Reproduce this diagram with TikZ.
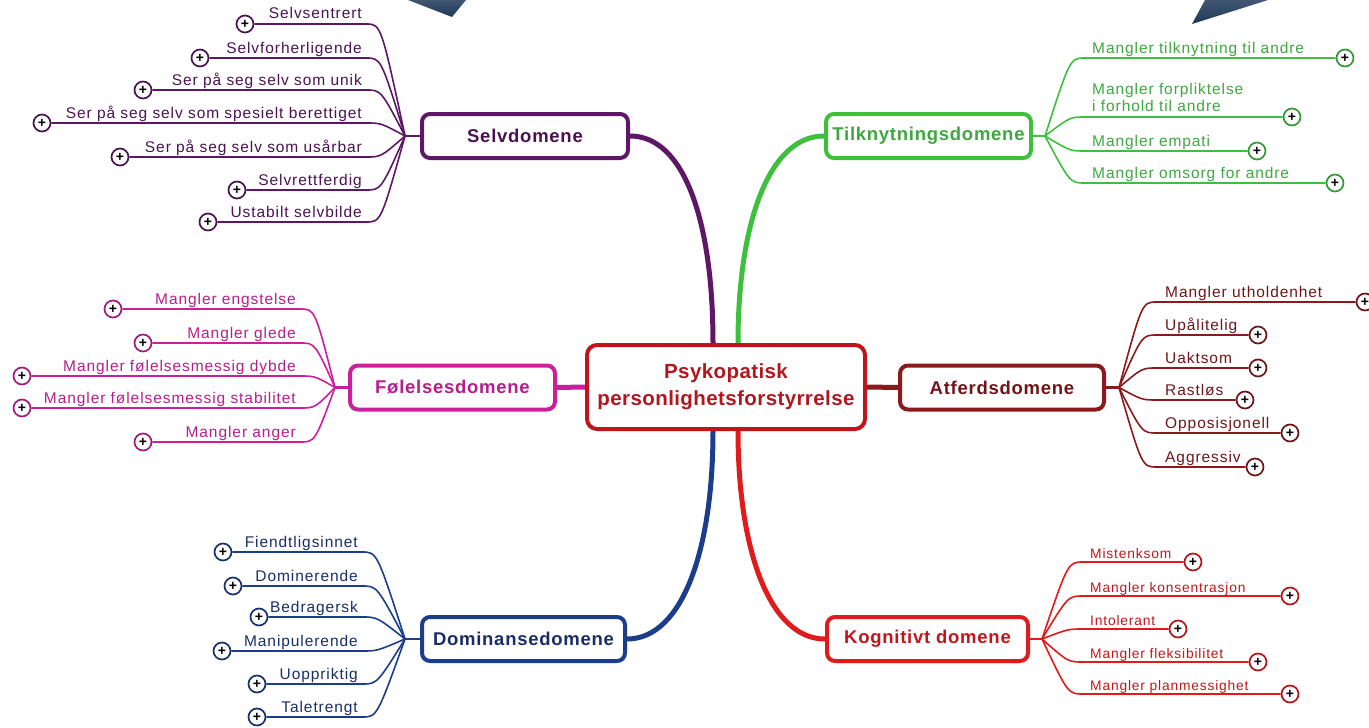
\documentclass[tikz,border=0pt]{standalone}
\usepackage{fontspec}
\setmainfont{Liberation Sans}
\newfontfamily\leaffont[LetterSpace=6]{Liberation Sans}
\newfontfamily\domfont[LetterSpace=4]{Liberation Sans}
\newfontfamily\hubfont[LetterSpace=2]{Liberation Sans}
\usetikzlibrary{calc}
\pgfdeclarelayer{background}
\pgfsetlayers{background,main}

\definecolor{selvc}{HTML}{5E1766}
\definecolor{selvt}{HTML}{4A1250}
\definecolor{tilkc}{HTML}{3EC03E}
\definecolor{tilkt}{HTML}{3DA83D}
\definecolor{folc}{HTML}{CC1F9C}
\definecolor{folt}{HTML}{B51F8C}
\definecolor{atfc}{HTML}{8A1A1E}
\definecolor{atft}{HTML}{701519}
\definecolor{domc}{HTML}{1B3D8C}
\definecolor{domt}{HTML}{182E66}
\definecolor{kogc}{HTML}{E01B1B}
\definecolor{kogt}{HTML}{C0161C}
\definecolor{hubc}{HTML}{C0151D}
\definecolor{hubt}{HTML}{B01820}
\definecolor{navy}{HTML}{1F3858}

\tikzset{
  domain/.style={draw=#1, line width=4pt, rounded corners=8pt, fill=white,
    minimum width=204pt, minimum height=44pt, inner sep=0pt,
    font=\domfont\bfseries\fontsize{18.5}{20}\selectfont},
  limb/.style={draw=#1, line width=5pt},
  stub/.style={draw=#1, line width=2.6pt},
  twig/.style={draw=#1, line width=1.6pt},
  expander/.style={circle, draw=#1!80!black, fill=white, line width=1.7pt,
    minimum size=17pt, inner sep=0pt,
    font=\bfseries\fontsize{14}{14}\selectfont, text=black},
  leaftext/.style={inner sep=0pt, text=#1,
    font=\leaffont\fontsize{15.5}{18}\selectfont},
}

\begin{document}
\begin{tikzpicture}[x=1pt,y=-1pt]
\useasboundingbox (0,0) rectangle (1369,728);

% arrow tips entering from above
\shade[top color=navy!85!white, bottom color=navy] (408,0) -- (466,0) -- (452,17) -- cycle;
\shade[top color=navy!85!white, bottom color=navy] (1205,0) -- (1268,0) -- (1192,24) -- cycle;

% central topic
\node[draw=hubc, line width=4pt, rounded corners=10pt, fill=white,
      minimum width=278pt, minimum height=84pt, align=center, text=hubt,
      font=\hubfont\bfseries\fontsize{20.5}{27}\selectfont]
      (C) at (726,387) {Psykopatisk\\personlighetsforstyrrelse};

% domains
\node[domain=selvc, text=selvt, minimum width=206pt] (S) at (525,136) {Selvdomene};
\node[domain=tilkc, text=tilkt, minimum width=205pt] (T) at (928.5,136) {Tilknytningsdomene};
\node[domain=folc, text=folt, minimum width=205pt] (F) at (452.5,387.5) {Følelsesdomene};
\node[domain=atfc, text=atft, minimum width=204pt] (A) at (1002,387.5) {Atferdsdomene};
\node[domain=domc, text=domt, minimum width=203pt] (D) at (523.5,639) {Dominansedomene};
\node[domain=kogc, text=kogt, minimum width=201pt] (K) at (927.5,639) {Kognitivt domene};

% connectors from the central topic
\coordinate (Cn1) at ($(C.north)+(-13,0)$);
\coordinate (Cn2) at ($(C.north)+(12,0)$);
\coordinate (Cs1) at ($(C.south)+(-13,0)$);
\coordinate (Cs2) at ($(C.south)+(12,0)$);
\begin{pgfonlayer}{background}
  \draw[limb=selvc] (S.east) .. controls +(55,0) and +(0,-120) .. (Cn1);
  \draw[limb=tilkc] (T.west) .. controls +(-55,0) and +(0,-120) .. (Cn2);
  \draw[limb=domc] (D.east) .. controls +(55,0) and +(0,120) .. (Cs1);
  \draw[limb=kogc] (K.west) .. controls +(-55,0) and +(0,120) .. (Cs2);
  \draw[limb=folc] (F.east) -- (C.west);
  \draw[limb=atfc] (C.east) -- (A.west);
\end{pgfonlayer}

% hubs where the subtopics fan out
\coordinate (Sh) at ($(S.west)+(-15,0)$);
\coordinate (Fh) at ($(F.west)+(-13,0)$);
\coordinate (Dh) at ($(D.west)+(-15,0)$);
\coordinate (Th) at ($(T.east)+(12,0)$);
\coordinate (Ah) at ($(A.east)+(13,0)$);
\coordinate (Kh) at ($(K.east)+(12,0)$);
\draw[stub=selvc] (S.west) -- (Sh);
\draw[stub=folc] (F.west) -- (Fh);
\draw[stub=domc] (D.west) -- (Dh);
\draw[stub=tilkc] (T.east) -- (Th);
\draw[stub=atfc] (A.east) -- (Ah);
\draw[stub=kogc] (K.east) -- (Kh);

% Selvdomene
\foreach \y/\xc/\t [count=\i] in {24/245/Selvsentrert, 58/200/Selvforherligende,
    90/143/Ser på seg selv som unik, 123/42/Ser på seg selv som spesielt berettiget,
    157/120/Ser på seg selv som usårbar, 190/237/Selvrettferdig, 222/208/Ustabilt selvbilde}{
  \coordinate (S\i-e) at (366,\y);
  \node[expander=selvc] (S\i-c) at (\xc,\y) {+};
  \node[leaftext=selvt, anchor=base east] (S\i-t) at (362,\y-5) {\t};
  \draw[twig=selvc] (Sh) .. controls ($(S\i-e)+(15,0)$) .. (S\i-e) -- (S\i-c);
}

% Følelsesdomene
\foreach \y/\xc/\t [count=\i] in {309/113/Mangler engstelse, 343/143/Mangler glede,
    376/22/Mangler følelsesmessig dybde, 408/22/Mangler følelsesmessig stabilitet,
    442/143/Mangler anger}{
  \coordinate (F\i-e) at (300,\y);
  \node[expander=folc] (F\i-c) at (\xc,\y) {+};
  \node[leaftext=folt, anchor=base east] (F\i-t) at (296,\y-5) {\t};
  \draw[twig=folc] (Fh) .. controls ($(F\i-e)+(15,0)$) .. (F\i-e) -- (F\i-c);
}

% Dominansedomene
\foreach \y/\xc/\t [count=\i] in {552/223/Fiendtligsinnet, 586/233/Dominerende,
    617/259/Bedragersk, 651/222/Manipulerende, 684/257/Uoppriktig, 717/257/Taletrengt}{
  \coordinate (D\i-e) at (362,\y);
  \node[expander=domc] (D\i-c) at (\xc,\y) {+};
  \node[leaftext=domt, anchor=base east] (D\i-t) at (358,\y-5) {\t};
  \draw[twig=domc] (Dh) .. controls ($(D\i-e)+(15,0)$) .. (D\i-e) -- (D\i-c);
}

% Tilknytningsdomene
\foreach \y/\xc/\t [count=\i] in {58/1345/Mangler tilknytning til andre,
    151/1257/Mangler empati, 183/1335/Mangler omsorg for andre}{
  \coordinate (T\i-e) at (1085,\y);
  \node[expander=tilkc] (T\i-c) at (\xc,\y) {+};
  \node[leaftext=tilkt, anchor=base west] (T\i-t) at (1092,\y-5) {\t};
  \draw[twig=tilkc] (Th) .. controls ($(T\i-e)+(-15,0)$) .. (T\i-e) -- (T\i-c);
}
\coordinate (T4-e) at (1085,117);
\node[expander=tilkc] (T4-c) at (1292,117) {+};
\node[leaftext=tilkt, anchor=south west, align=left] (T4-t) at (1092,112)
  {Mangler forpliktelse\\[-1pt]i forhold til andre};
\draw[twig=tilkc] (Th) .. controls ($(T4-e)+(-15,0)$) .. (T4-e) -- (T4-c);

% Atferdsdomene
\foreach \y/\xc/\t [count=\i] in {302/1365/Mangler utholdenhet, 335/1258/Upålitelig,
    368/1258/Uaktsom, 400/1245/Rastløs, 433/1290/Opposisjonell, 467/1255/Aggressiv}{
  \coordinate (A\i-e) at (1157,\y);
  \node[expander=atfc] (A\i-c) at (\xc,\y) {+};
  \node[leaftext=atft, anchor=base west] (A\i-t) at (1165,\y-5) {\t};
  \draw[twig=atfc] (Ah) .. controls ($(A\i-e)+(-15,0)$) .. (A\i-e) -- (A\i-c);
}

% Kognitivt domene
\foreach \y/\xc/\t [count=\i] in {562/1193/Mistenksom, 596/1290/Mangler konsentrasjon,
    629/1178/Intolerant, 662/1258/Mangler fleksibilitet, 694/1290/Mangler planmessighet}{
  \coordinate (K\i-e) at (1083,\y);
  \node[expander=kogc] (K\i-c) at (\xc,\y) {+};
  \node[leaftext=kogt, anchor=base west, font=\leaffont\fontsize{13.8}{16}\selectfont]
    (K\i-t) at (1090,\y-4) {\t};
  \draw[twig=kogc] (Kh) .. controls ($(K\i-e)+(-15,0)$) .. (K\i-e) -- (K\i-c);
}
\end{tikzpicture}
\end{document}
